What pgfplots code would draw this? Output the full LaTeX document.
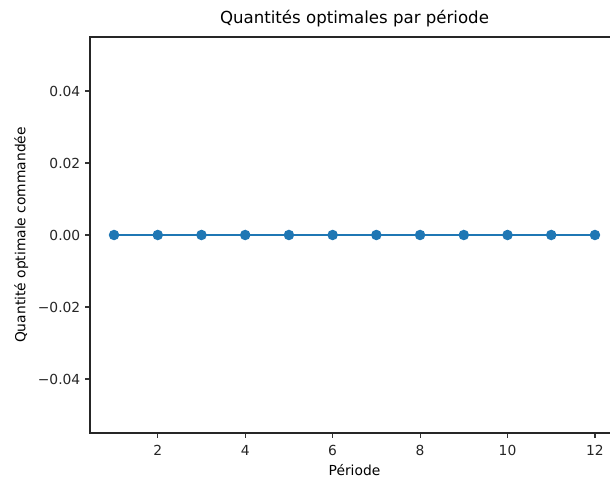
\documentclass[border=0pt]{standalone}
\usepackage{fontspec}
\setmainfont{DejaVu Sans}
\usepackage{pgfplots}
\pgfplotsset{compat=1.18}
\definecolor{mplblue}{HTML}{1F77B4}
\begin{document}
\begin{tikzpicture}
\useasboundingbox (0,0) rectangle (6.1in,4.79in);
\begin{axis}[
  at={(0.90in,0.46in)}, anchor=south west,
  width=5.29in, height=3.96in, scale only axis,
  xmin=0.45, xmax=12.55, ymin=-0.055, ymax=0.055,
  xtick={2,4,6,8,10,12},
  ytick={-0.04,-0.02,0,0.02,0.04},
  yticklabels={−0.04,−0.02,0.00,0.02,0.04},
  scaled y ticks=false,
  /pgf/number format/assume math mode=true,
  tick label style={font=\fontsize{10}{12}\selectfont, text=black!85},
  xticklabel style={yshift=-2pt},
  tick align=outside, tick pos=left,
  major tick length=3.5pt,
  every tick/.style={black!80, line width=0.8pt},
  axis line style={line width=0.8pt, black!85},
  title={Quantités optimales par période},
  title style={font=\fontsize{12}{14}\selectfont, yshift=-2pt},
  xlabel={Période}, ylabel={Quantité optimale commandée},
  label style={font=\fontsize{10}{12}\selectfont},
  xlabel style={yshift=1pt},
]
\addplot[mplblue, line width=1.5pt, mark=*, mark size=3pt, mark options={fill=mplblue, draw=mplblue}]
coordinates {(1,0) (2,0) (3,0) (4,0) (5,0) (6,0) (7,0) (8,0) (9,0) (10,0) (11,0) (12,0)};
\end{axis}
\end{tikzpicture}
\end{document}
